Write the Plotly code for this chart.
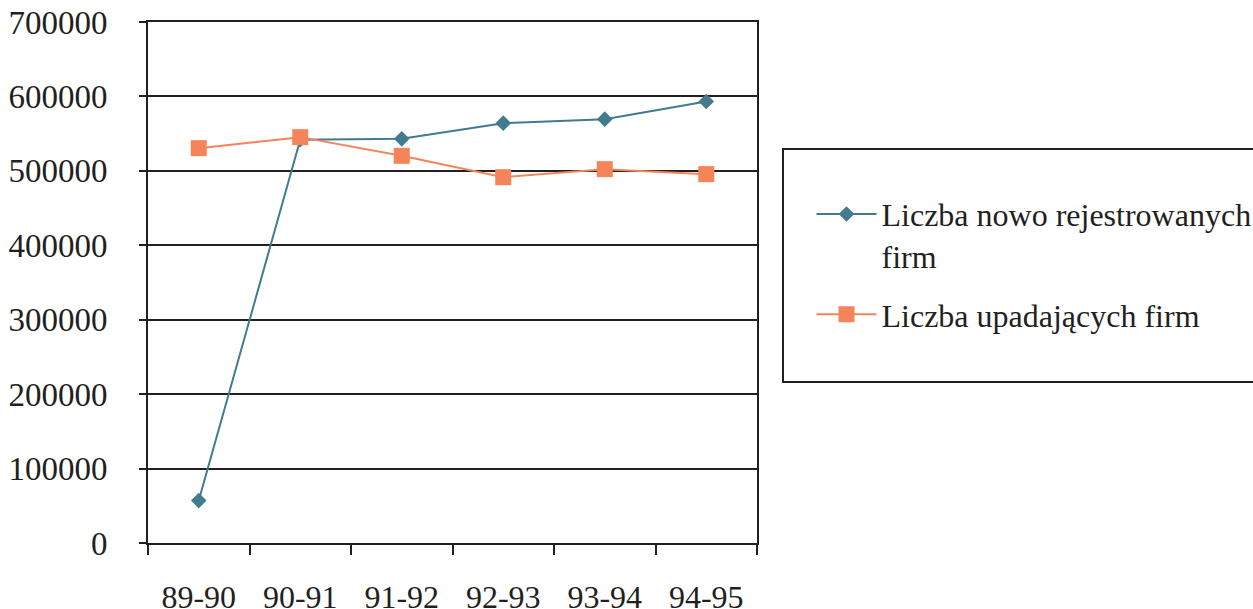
import plotly.graph_objects as go

categories = ["89-90", "90-91", "91-92", "92-93", "93-94", "94-95"]
nowe_firmy = [57000, 541700, 543000, 564100, 569500, 593100]
upadajace_firmy = [530500, 545300, 520200, 491500, 502300, 495600]
y_ticks = [0, 100000, 200000, 300000, 400000, 500000, 600000, 700000]

FONT = "Liberation Serif"
BLUE = "#417B8D"
ORANGE = "#F5845A"
INK = "#231F20"

fig = go.Figure()
fig.add_trace(go.Scatter(
    x=categories, y=nowe_firmy, mode="lines+markers",
    name="Liczba nowo rejestrowanych<br>firm", legendgroup="a",
    line=dict(color=BLUE, width=2),
    marker=dict(symbol="diamond", size=12, color=BLUE),
))
fig.add_trace(go.Scatter(
    x=categories, y=upadajace_firmy, mode="lines+markers",
    name="Liczba upadających firm", legendgroup="b",
    line=dict(color=ORANGE, width=2),
    marker=dict(symbol="square", size=16, color=ORANGE),
))

fig.update_layout(
    width=1253, height=609,
    margin=dict(l=148, r=496, t=22, b=66, autoexpand=False),
    paper_bgcolor="white", plot_bgcolor="white",
    font=dict(family=FONT, size=32, color=INK),
    showlegend=True,
    legend=dict(
        x=1.0 + 54.5 / 609, y=0.684,
        xanchor="left", yanchor="top",
        xref="paper", yref="paper",
        font=dict(family=FONT, size=32, color=INK),
        bgcolor="rgba(0,0,0,0)", borderwidth=0,
        tracegroupgap=14, itemwidth=60, valign="top",
    ),
    shapes=[dict(
        type="rect", xref="paper", yref="paper",
        x0=1.0 + (783 - 757) / 609, x1=1.0 + (1256 - 757) / 609,
        y0=(543 - 382) / 521, y1=(543 - 149) / 521,
        line=dict(color=INK, width=2), fillcolor="rgba(0,0,0,0)",
    )],
)

fig.update_xaxes(
    type="category", tickson="boundaries", automargin=False,
    range=[-0.5, len(categories) - 0.5],
    showgrid=False, showline=True, linecolor=INK, linewidth=2, mirror=True,
    ticks="outside", ticklen=10, tickwidth=1.5, tickcolor=INK,
    ticklabelstandoff=25,
    tickfont=dict(family=FONT, size=32, color=INK),
)
fig.update_yaxes(
    range=[0, 700000], tickvals=y_ticks, ticktext=[str(v) for v in y_ticks],
    automargin=False,
    showgrid=True, gridcolor=INK, gridwidth=1.5,
    showline=True, linecolor=INK, linewidth=2, mirror=True,
    ticks="outside", ticklen=7, tickwidth=1.5, tickcolor=INK,
    ticklabelstandoff=25, zeroline=False,
    tickfont=dict(family=FONT, size=33, color=INK),
)

fig.write_html(
    "out.html",
    config={"displayModeBar": False},
    post_script="document.body.style.margin='0';document.body.style.overflow='hidden';",
)
